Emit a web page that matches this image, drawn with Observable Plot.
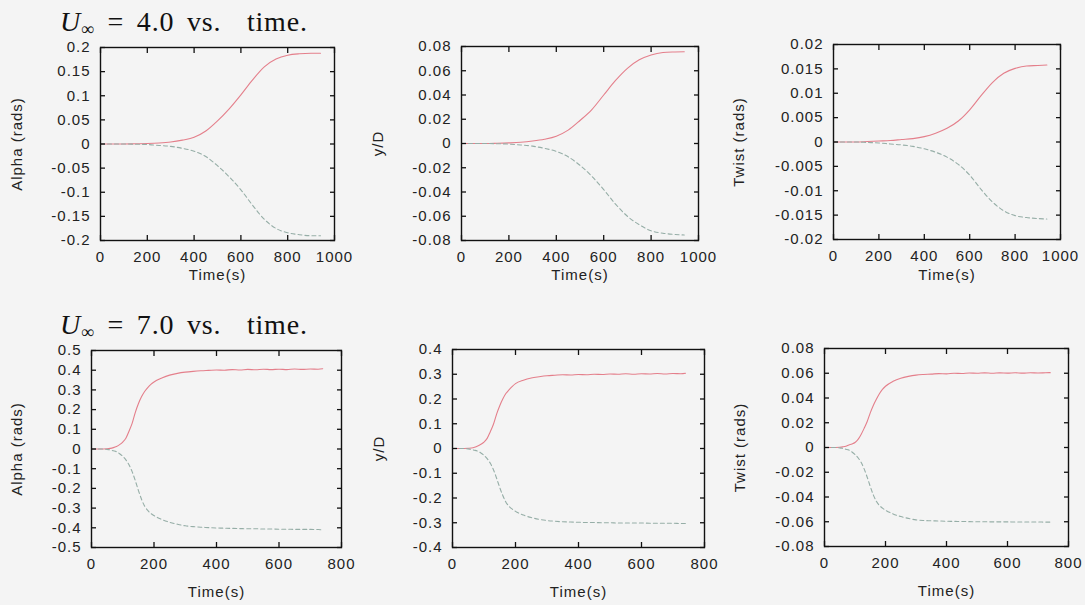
<!DOCTYPE html>
<html><head><meta charset="utf-8">
<script src="https://cdn.jsdelivr.net/npm/d3@7"></script>
<script src="https://cdn.jsdelivr.net/npm/@observablehq/plot@0.6"></script>
<style>
html,body{margin:0;padding:0;background:#f4f4f4;}
#root{position:relative;width:1085px;height:605px;overflow:hidden;background:#f4f4f4;}
.panel{position:absolute;}
.title{position:absolute;font-family:"Liberation Serif","Times New Roman",serif;font-size:28px;line-height:28px;color:#111;white-space:nowrap;letter-spacing:0.8px;word-spacing:5px;}
.title sub{font-size:18px;line-height:10px;vertical-align:-4px;}
</style></head><body><div id="root"></div>
<script>
// ---- data ----
const titleTop = "4.0";
const titleBottom = "7.0";
const yLabels = ["Alpha (rads)", "y/D", "Twist (rads)"];
const xLabel = "Time(s)";

const timeTop = [0,50,100,150,200,250,300,350,400,450,500,550,600,650,700,750,800,850,900,940];
const alphaTopUp   = [0,0,0,0.0005,0.001,0.002,0.004,0.008,0.014,0.027,0.048,0.073,0.102,0.133,0.16,0.176,0.184,0.187,0.188,0.188];
const alphaTopDown = [0,0,0,-0.0005,-0.001,-0.003,-0.005,-0.009,-0.015,-0.026,-0.045,-0.068,-0.095,-0.127,-0.156,-0.175,-0.184,-0.188,-0.19,-0.19];
const yDTopUp      = [0,0,0,0.0002,0.0005,0.001,0.002,0.0035,0.006,0.011,0.019,0.028,0.04,0.052,0.062,0.069,0.073,0.075,0.0755,0.0757];
const yDTopDown    = [0,0,0,-0.0002,-0.0005,-0.0012,-0.0022,-0.004,-0.0065,-0.011,-0.018,-0.027,-0.038,-0.05,-0.06,-0.067,-0.072,-0.074,-0.075,-0.0755];
const twistTopUp   = [0,0,0,0.0001,0.0002,0.0003,0.0005,0.0007,0.0011,0.0018,0.0028,0.0043,0.0066,0.0095,0.0122,0.0141,0.0151,0.0156,0.0157,0.0158];
const twistTopDown = [0,0,0,-0.0001,-0.0002,-0.0004,-0.0006,-0.0009,-0.0014,-0.0021,-0.0031,-0.0046,-0.0068,-0.0097,-0.0123,-0.0141,-0.0151,-0.0155,-0.0157,-0.0158];

const timeBot = [0,25,50,60,70,80,90,100,110,120,130,140,150,160,170,180,190,200,225,250,275,300,325,350,375,400,425,450,475,500,525,550,575,600,625,650,675,700,725,740];
const alphaBotUp   = [0,0,0.001,0.003,0.007,0.013,0.022,0.035,0.055,0.09,0.13,0.185,0.23,0.265,0.292,0.312,0.328,0.34,0.36,0.375,0.384,0.39,0.394,0.397,0.399,0.401,0.400,0.403,0.401,0.404,0.402,0.405,0.403,0.405,0.403,0.406,0.404,0.406,0.405,0.407];
const alphaBotDown = [0,0,-0.002,-0.005,-0.009,-0.014,-0.024,-0.037,-0.055,-0.08,-0.115,-0.16,-0.21,-0.255,-0.29,-0.312,-0.327,-0.338,-0.358,-0.372,-0.382,-0.39,-0.394,-0.397,-0.399,-0.401,-0.402,-0.403,-0.404,-0.405,-0.405,-0.406,-0.406,-0.407,-0.407,-0.408,-0.408,-0.408,-0.409,-0.41];
const yDBotUp      = [0,0,0.001,0.002,0.005,0.01,0.017,0.026,0.041,0.068,0.098,0.139,0.173,0.201,0.223,0.238,0.251,0.262,0.276,0.285,0.29,0.294,0.296,0.298,0.297,0.299,0.298,0.300,0.299,0.301,0.300,0.302,0.300,0.302,0.301,0.303,0.301,0.303,0.302,0.304];
const yDBotDown    = [0,0,-0.0015,-0.004,-0.007,-0.011,-0.018,-0.028,-0.041,-0.06,-0.086,-0.12,-0.158,-0.191,-0.218,-0.234,-0.245,-0.254,-0.269,-0.279,-0.286,-0.291,-0.294,-0.296,-0.297,-0.298,-0.299,-0.299,-0.3,-0.3,-0.301,-0.301,-0.301,-0.301,-0.302,-0.302,-0.302,-0.302,-0.303,-0.303];
const twistBotUp   = [0,0,0.0002,0.0005,0.001,0.002,0.0028,0.004,0.0065,0.0105,0.0155,0.021,0.028,0.034,0.039,0.0435,0.047,0.0495,0.0535,0.056,0.0575,0.0585,0.059,0.0593,0.0597,0.0595,0.06,0.0598,0.0602,0.06,0.0603,0.06,0.0603,0.0601,0.0604,0.0601,0.0604,0.0602,0.0604,0.0605];
const twistBotDown = [0,0,-0.0003,-0.0008,-0.0014,-0.0021,-0.0036,-0.0056,-0.0083,-0.012,-0.0173,-0.024,-0.0315,-0.0383,-0.0435,-0.0468,-0.049,-0.0507,-0.0537,-0.0558,-0.0573,-0.0585,-0.059,-0.0592,-0.0594,-0.0596,-0.0597,-0.0598,-0.0599,-0.06,-0.06,-0.0601,-0.0601,-0.0601,-0.0602,-0.0602,-0.0602,-0.0602,-0.0603,-0.0603];

const xTicksTop = [0,200,400,600,800,1000];
const xTicksBot = [0,200,400,600,800];
const yTicksAlphaTop = [-0.2,-0.15,-0.1,-0.05,0,0.05,0.1,0.15,0.2];
const yTicksYDTop = [-0.08,-0.06,-0.04,-0.02,0,0.02,0.04,0.06,0.08];
const yTicksTwistTop = [-0.02,-0.015,-0.01,-0.005,0,0.005,0.01,0.015,0.02];
const yTicksAlphaBot = [-0.5,-0.4,-0.3,-0.2,-0.1,0,0.1,0.2,0.3,0.4,0.5];
const yTicksYDBot = [-0.4,-0.3,-0.2,-0.1,0,0.1,0.2,0.3,0.4];
const yTicksTwistBot = [-0.08,-0.06,-0.04,-0.02,0,0.02,0.04,0.06,0.08];

const upColor = "#e47f8b";
const downColor = "#96aea7";

// ---- drawing ----
const root = document.getElementById("root");
const fmt = d => String(+(+d).toFixed(4));

function panel(o) {
  const [L, T, R, B] = o.frame;
  const mL = 110, mR = 15, mT = 12, mB = 60;
  const W = R - L + mL + mR, H = B - T + mT + mB;
  const rows = o.time.map((t, i) => ({t, up: o.up[i], down: o.down[i]}));
  const chart = Plot.plot({
    width: W, height: H,
    marginLeft: mL, marginRight: mR, marginTop: mT, marginBottom: mB,
    x: {domain: o.xDomain, axis: null},
    y: {domain: o.yDomain, axis: null},
    style: {background: "transparent", fontFamily: "'Liberation Sans', Arial, sans-serif", fontSize: "15px", color: "#222", overflow: "visible", letterSpacing: "1px"},
    marks: [
      Plot.line(rows, {x: "t", y: "up", stroke: upColor, strokeWidth: 1.1, curve: "monotone-x"}),
      Plot.line(rows, {x: "t", y: "down", stroke: downColor, strokeWidth: 1.1, strokeDasharray: "4,3", curve: "monotone-x"}),
      Plot.axisX({ticks: o.xTicks, anchor: "bottom", tickSize: 0, tickPadding: 11, tickFormat: fmt, label: null, fontSize: 15}),
      Plot.axisX({ticks: o.xTicks, anchor: "bottom", tickSize: 5, dy: -5, tickFormat: () => "", label: null, stroke: "#111", strokeWidth: 1.3}),
      Plot.axisX({ticks: o.xTicks, anchor: "top", tickSize: 5, dy: 5, tickFormat: () => "", label: null, stroke: "#111", strokeWidth: 1.3}),
      Plot.axisY({ticks: o.yTicks, anchor: "left", tickSize: 0, tickPadding: 10, tickFormat: fmt, label: null, fontSize: 15}),
      Plot.axisY({ticks: o.yTicks, anchor: "left", tickSize: 5, dx: 5, tickFormat: () => "", label: null, stroke: "#111", strokeWidth: 1.3}),
      Plot.axisY({ticks: o.yTicks, anchor: "right", tickSize: 5, dx: -5, tickFormat: () => "", label: null, stroke: "#111", strokeWidth: 1.3}),
      Plot.frame({stroke: "#111", strokeWidth: 1.4}),
      Plot.text([o.yLabel], {frameAnchor: "left", dx: -o.yLabelOffset, rotate: -90, textAnchor: "middle", lineAnchor: "middle", text: d => d, fontSize: 15, fill: "#222"}),
      Plot.text([xLabel], {frameAnchor: "bottom", dy: o.xLabelOffset, textAnchor: "middle", lineAnchor: "middle", text: d => d, fontSize: 15, fill: "#222"})
    ]
  });
  const div = document.createElement("div");
  div.className = "panel";
  div.style.left = (L - mL) + "px";
  div.style.top = (T - mT) + "px";
  div.appendChild(chart);
  root.appendChild(div);
}

function title(txt, left, top) {
  const d = document.createElement("div");
  d.className = "title";
  d.style.left = left + "px";
  d.style.top = top + "px";
  d.innerHTML = "<i>U</i><sub>∞</sub> = " + txt + " vs.&nbsp; time.";
  root.appendChild(d);
}

title(titleTop, 60, 8);
title(titleBottom, 60, 311);

panel({frame: [100, 47, 334, 240], time: timeTop, up: alphaTopUp, down: alphaTopDown, xDomain: [0, 1000], xTicks: xTicksTop, yDomain: [-0.2, 0.2], yTicks: yTicksAlphaTop, yLabel: yLabels[0], yLabelOffset: 83, xLabelOffset: 35});
panel({frame: [461, 46, 698, 240], time: timeTop, up: yDTopUp, down: yDTopDown, xDomain: [0, 1000], xTicks: xTicksTop, yDomain: [-0.08, 0.08], yTicks: yTicksYDTop, yLabel: yLabels[1], yLabelOffset: 83, xLabelOffset: 35});
panel({frame: [833, 44, 1060, 239], time: timeTop, up: twistTopUp, down: twistTopDown, xDomain: [0, 1000], xTicks: xTicksTop, yDomain: [-0.02, 0.02], yTicks: yTicksTwistTop, yLabel: yLabels[2], yLabelOffset: 94, xLabelOffset: 36});
panel({frame: [91, 350, 341, 547], time: timeBot, up: alphaBotUp, down: alphaBotDown, xDomain: [0, 800], xTicks: xTicksBot, yDomain: [-0.5, 0.5], yTicks: yTicksAlphaBot, yLabel: yLabels[0], yLabelOffset: 74, xLabelOffset: 45});
panel({frame: [452, 349, 704, 547], time: timeBot, up: yDBotUp, down: yDBotDown, xDomain: [0, 800], xTicks: xTicksBot, yDomain: [-0.4, 0.4], yTicks: yTicksYDBot, yLabel: yLabels[1], yLabelOffset: 73, xLabelOffset: 45});
panel({frame: [824, 348, 1068, 546], time: timeBot, up: twistBotUp, down: twistBotDown, xDomain: [0, 800], xTicks: xTicksBot, yDomain: [-0.08, 0.08], yTicks: yTicksTwistBot, yLabel: yLabels[2], yLabelOffset: 84, xLabelOffset: 45});
</script></body></html>
